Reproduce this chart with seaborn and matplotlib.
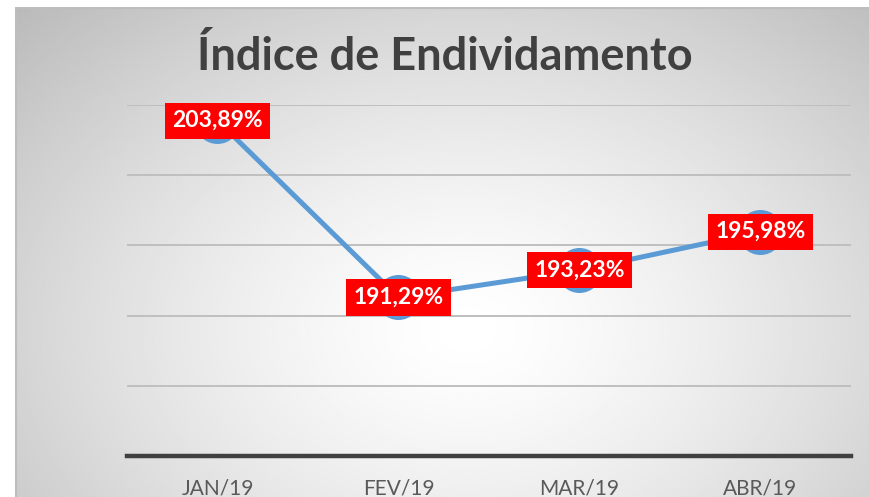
import matplotlib.pyplot as plt
import numpy as np
import seaborn as sns

months = ["JAN/19", "FEV/19", "MAR/19", "ABR/19"]
indice = [203.89, 191.29, 193.23, 195.98]
rotulos = ["203,89%", "191,29%", "193,23%", "195,98%"]

LINE_BLUE = "#5B9BD5"
W, H = 870, 497

sns.set_theme(style="white")
plt.rcParams["font.family"] = ["Lato", "DejaVu Sans"]

fig = plt.figure(figsize=(W / 100, H / 100), dpi=100)

# radial gradient background of the chart area
bg = fig.add_axes([15 / W, 0, 1 - 15 / W, 1 - 7 / H], zorder=0)
gx, gy = np.meshgrid(np.linspace(0, 1, 400), np.linspace(0, 1, 240))
dist = np.sqrt(((gx - 0.53) / 0.62) ** 2 + ((gy - 0.66) / 0.78) ** 2)
shade = 1 - 0.21 * np.clip(dist, 0, 1.25) ** 1.4
bg.imshow(shade, cmap="gray", vmin=0, vmax=1, aspect="auto", origin="upper",
          extent=[0, 1, 0, 1], interpolation="bilinear")
bg.plot([0, 0], [0, 1], color="#bdbdbd", lw=3, solid_capstyle="butt")
bg.plot([0, 1], [1, 1], color="#bdbdbd", lw=3, solid_capstyle="butt")
bg.set_xlim(0, 1)
bg.set_ylim(0, 1)
bg.axis("off")

ax = fig.add_axes([127 / W, 1 - 456 / H, (851 - 127) / W, (456 - 105) / H], zorder=1)
ax.patch.set_alpha(0)
sns.lineplot(x=months, y=indice, ax=ax, sort=False, color=LINE_BLUE, linewidth=3.6)
sns.scatterplot(x=months, y=indice, ax=ax, color=LINE_BLUE, s=1050, linewidth=0, zorder=3)

ax.set_xlim(-0.5, 3.5)
ax.set_ylim(180, 205)
ax.set_yticks([185, 190, 195, 200, 205])
ax.yaxis.grid(True, color="#bfbfbf", linewidth=1.4)
ax.set_axisbelow(True)
ax.tick_params(axis="y", left=False, labelleft=False)
ax.tick_params(axis="x", bottom=False, labelsize=15, labelcolor="#595959", pad=10)
for side in ["top", "right", "left"]:
    ax.spines[side].set_visible(False)
ax.spines["bottom"].set_color("#404040")
ax.spines["bottom"].set_linewidth(3.2)
ax.set_xlabel("")
ax.set_ylabel("")

for i, (v, txt) in enumerate(zip(indice, rotulos)):
    ax.text(i, v, txt, ha="center", va="center", fontsize=16.5, fontweight="bold",
            color="white", zorder=5,
            bbox=dict(boxstyle="square,pad=0.33", facecolor="#FF0000", edgecolor="none"))

fig.text(445 / W, 1 - 57 / H, "Índice de Endividamento", ha="center", va="center",
         fontsize=32.5, fontweight="bold", color="#404040", zorder=2)

fig.savefig("out.png", dpi=100)
